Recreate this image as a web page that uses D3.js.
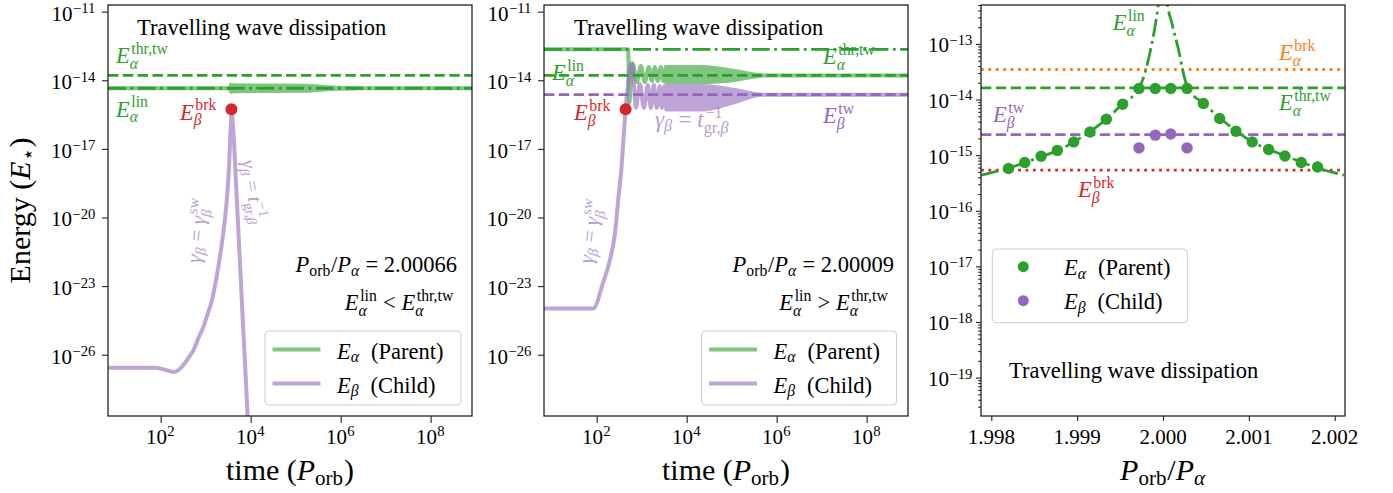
<!DOCTYPE html>
<html>
<head>
<meta charset="utf-8">
<script src="https://cdn.jsdelivr.net/npm/d3@7"></script>
<style>
  body { margin: 0; background: #fff; }
  svg text { font-family: "Liberation Serif", "Times New Roman", serif; white-space: pre; }
</style>
</head>
<body>
<svg id="fig" width="1393" height="493"></svg>
<script>
// ---------------- data ----------------
// reference energies (units of E⋆)
const E_thr_tw    = 1.62e-14;   // travelling-wave threshold of the parent
const E_beta_tw   = 2.34e-15;   // child energy in the travelling-wave state
const E_beta_brk  = 5.36e-16;   // child wave-breaking energy
const E_alpha_brk = 3.47e-14;   // parent wave-breaking energy
const E_lin_A     = 4.47e-15;   // linear parent energy, P_orb/P_α = 2.00066
const E_lin_B     = 2.24e-13;   // linear parent energy, P_orb/P_α = 2.00009

// tick values
const timeTicks    = [1e2, 1e4, 1e6, 1e8];
const energyTicksAB = [-11, -14, -17, -20, -23, -26];
const energyTicksC  = [-13, -14, -15, -16, -17, -18, -19];
const ratioTicks    = [1.998, 1.999, 2.000, 2.001, 2.002];

// axis limits
const tLimits  = [6.76, 8.3e8];
const eLimitsAB = [2.09e-29, 1.95e-11];
const eLimitsC  = [2.04e-20, 5.01e-13];
const rLimits  = [1.99788, 2.00212];

// --- left panel: P_orb/P_α = 2.00066 ---
const brkTimeA = 3.74e3;
const tA_child = [6.70, 74.1, 126, 191, 243, 316, 407, 537, 676, 891, 1.10e3, 1.38e3, 1.62e3, 1.91e3,
                  2.19e3, 2.45e3, 2.95e3, 3.31e3, 3.55e3, 3.72e3, 3.74e3, 4.15e3, 4.93e3, 5.85e3,
                  6.92e3, 8.24e3, 8.81e3];
const EA_child = [2.69e-27, 2.69e-27, 2.19e-27, 1.76e-27, 2.08e-27, 3.45e-27, 7.00e-27, 1.57e-26,
                  4.74e-26, 1.64e-25, 5.89e-25, 2.42e-24, 1.09e-23, 6.92e-23, 3.85e-22, 2.00e-21,
                  5.78e-20, 1.65e-18, 4.76e-17, 3.58e-16, 5.36e-16, 4.76e-17, 5.78e-20, 6.92e-23,
                  8.43e-26, 1.01e-28, 4.9e-30];
const tA_parent = [6.76, 8.3e8];
const EA_parent = [E_lin_A, E_lin_A];
// envelope of the small parent oscillation
const tA_band   = [3.53e3, 3.63e3, 4.17e3, 1.78e5, 5.01e5, 2.34e6];
const EA_bandHi = [4.47e-15, 6.35e-15, 6.04e-15, 5.74e-15, 4.94e-15, 4.47e-15];
const EA_bandLo = [4.47e-15, 3.14e-15, 3.30e-15, 3.48e-15, 4.04e-15, 4.47e-15];

// --- middle panel: P_orb/P_α = 2.00009 ---
const brkTimeB = 440;
const tB_parent = [6.79, 501, 533, 575, 638, 783, 959, 1178, 1445, 1683, 1963, 2286, 2667, 3027, 3443];
const EB_parent = [2.24e-13, 2.24e-13, 1.01e-15, 1.03e-14, 5.13e-14, 8.38e-15, 4.21e-14, 8.38e-15,
                   3.80e-14, 9.33e-15, 3.80e-14, 9.33e-15, 3.80e-14, 9.33e-15, 3.80e-14];
const tB_pBand   = [3443, 2.28e4, 1.17e5, 5.41e5, 8.3e8];
const EB_pBandHi = [3.80e-14, 3.80e-14, 2.54e-14, 1.62e-14, 1.62e-14];
const EB_pBandLo = [8.38e-15, 8.38e-15, 1.03e-14, 1.62e-14, 1.62e-14];

const tB_child = [6.79, 84.1, 138, 197, 255, 301, 358, 403, 440, 494, 561, 607, 671, 743, 912,
                  1119, 1371, 1600, 1862, 2173, 2535, 2805, 3184, 3532];
const EB_child = [1.05e-24, 1.05e-24, 1.34e-23, 1.36e-22, 2.00e-21, 5.78e-20, 1.65e-18, 4.76e-17,
                  5.36e-16, 6.19e-15, 4.21e-14, 5.69e-14, 6.19e-15, 6.11e-16, 6.85e-15, 6.11e-16,
                  6.19e-15, 6.11e-16, 6.19e-15, 6.11e-16, 5.60e-15, 6.11e-16, 5.60e-15, 6.11e-16];
const tB_cBand   = [3532, 2.28e4, 1.17e5, 4.62e5, 8.3e8];
const EB_cBandHi = [5.60e-15, 5.60e-15, 3.74e-15, 2.34e-15, 2.34e-15];
const EB_cBandLo = [5.25e-16, 5.25e-16, 1.12e-15, 2.34e-15, 2.34e-15];

// --- right panel: saturated energies versus period ratio ---
const ratioAlpha = [1.99820, 1.99839, 1.99858, 1.99877, 1.99896, 1.99915, 1.99934, 1.99953, 1.99972, 1.99991,
                    2.00009, 2.00028, 2.00047, 2.00066, 2.00085, 2.00104, 2.00123, 2.00142, 2.00161, 2.00180];
const E_alphaSat = [5.74e-16, 7.36e-16, 9.55e-16, 1.22e-15, 1.73e-15, 2.61e-15, 4.43e-15, 8.22e-15, 1.58e-14, 1.58e-14,
                    1.58e-14, 1.58e-14, 8.47e-15, 4.55e-15, 2.69e-15, 1.73e-15, 1.26e-15, 9.68e-16, 7.36e-16, 6.14e-16];
const ratioBeta = [1.99972, 1.99991, 2.00009, 2.00028];
const E_betaSat = [1.35e-15, 2.29e-15, 2.40e-15, 1.35e-15];
// linear parent energy curve
const ratioLin = [1.997883, 1.998183, 1.998397, 1.998591, 1.998766, 1.998960, 1.999155, 1.999341, 1.999524,
                  1.999723, 1.999776, 1.999854, 1.999913, 1.999951, 1.999985, 2.000015, 2.000047, 2.000105,
                  2.000182, 2.000248, 2.000287, 2.000474, 2.000671, 2.000854, 2.001040, 2.001234, 2.001429,
                  2.001623, 2.001798, 2.002108];
const E_linCurve = [4.36e-16, 5.74e-16, 7.36e-16, 9.57e-16, 1.19e-15, 1.73e-15, 2.69e-15, 4.43e-15, 8.22e-15,
                    1.64e-14, 2.55e-14, 7.69e-14, 2.32e-13, 6.10e-13, 2.5e-12, 2.5e-12, 6.10e-13, 2.32e-13,
                    7.69e-14, 2.55e-14, 1.64e-14, 8.47e-15, 4.55e-15, 2.69e-15, 1.73e-15, 1.26e-15, 9.68e-16,
                    7.36e-16, 5.89e-16, 4.36e-16];

// ---------------- styling ----------------
const green = '#2ca02c', purple = '#9467bd', red = '#d62728', orange = '#ff7f0e';
const axisCol = '#222';
const LW = 2.8;
const dashed  = [3.7 * LW, 1.6 * LW].join(',');
const dashdot = [6.4 * LW, 1.6 * LW, 1 * LW, 1.6 * LW].join(',');
const dotted  = [1 * LW, 1.65 * LW].join(',');

const plotTop = 5, ph = 411, pw = 364, plotBottom = plotTop + ph;
const leftA = 108, leftB = 544, leftC = 981;

const svg = d3.select('#fig');

// ---------------- text with sub/superscripts ----------------
const R = s => ({ s, it: false });
const I = s => ({ s, it: true });

function rich(parent, x, y, toks, o = {}) {
  const fs = o.size || 22.5, col = o.color || '#000';
  const g = parent.append('g')
    .attr('transform', `translate(${x},${y})` + (o.rotate ? ` rotate(${o.rotate})` : ''));
  if (o.opacity != null) g.attr('opacity', o.opacity);
  const inner = g.append('g');
  let cx = 0, prevItalic = false;
  const put = (tk, size, x0, dy) => {
    const t = inner.append('text')
      .attr('x', x0).attr('y', dy).attr('font-size', size)
      .attr('font-style', tk.it ? 'italic' : 'normal')
      .attr('fill', col).text(tk.s);
    return t.node().getComputedTextLength();
  };
  const run = (list, size, x0, dy) => {
    let w = 0;
    list.forEach(tk => { w += put(tk, size, x0 + w, dy); });
    return w;
  };
  toks.forEach(tk => {
    if (tk.s !== undefined) {
      cx += put(tk, fs, cx, 0);
      prevItalic = tk.it;
    } else {
      const ss = fs * 0.7, both = tk.sup && tk.sub;
      let w1 = 0, w2 = 0;
      if (tk.sub) w1 = run(tk.sub, ss, cx, fs * (both ? 0.25 : 0.17));
      if (tk.sup) {
        const k = prevItalic ? fs * 0.07 : fs * 0.02;
        w2 = k + run(tk.sup, ss, cx + k, -fs * (both ? 0.41 : 0.36));
      }
      cx += Math.max(w1, w2) + fs * 0.03;
      prevItalic = false;
    }
  });
  const a = o.anchor || 'start';
  if (a !== 'start') inner.attr('transform', `translate(${a === 'end' ? -cx : -cx / 2},0)`);
  return g;
}

const Esym = (sub, sup) => [I('E'), { sub: [I(sub)], sup: [R(sup)] }];
const gammaBeta = [I('γ'), { sub: [I('β')] }];
const expLabel = e => [R('10'), { sup: [R(e < 0 ? '−' + (-e) : String(e))] }];
const ratioText = r => [I('P'), { sub: [R('orb')] }, R('/'), I('P'), { sub: [I('α')] }, R(' = ' + r.toFixed(5))];

// ---------------- helpers ----------------
const zip = (a, b) => a.map((v, i) => [v, b[i]]);

function panelFrame(left, id) {
  svg.append('clipPath').attr('id', id).append('rect')
    .attr('x', left).attr('y', plotTop).attr('width', pw).attr('height', ph);
  return svg.append('g').attr('clip-path', `url(#${id})`);
}

function spines(left) {
  svg.append('rect').attr('x', left).attr('y', plotTop).attr('width', pw).attr('height', ph)
    .attr('fill', 'none').attr('stroke', axisCol).attr('stroke-width', 1.3);
}

function tickAxis(axis, transform, size) {
  const g = svg.append('g').attr('transform', transform)
    .call(axis.tickSize(size).tickFormat(''));
  g.select('.domain').remove();
  g.selectAll('.tick line').attr('stroke', axisCol).attr('stroke-width', 1.1);
  return g;
}

function hline(plot, x, y, value, color, dash) {
  plot.append('line')
    .attr('x1', x.range()[0]).attr('x2', x.range()[1])
    .attr('y1', y(value)).attr('y2', y(value))
    .attr('stroke', color).attr('stroke-width', LW)
    .attr('stroke-dasharray', dash);
}

function legendLines(x0, y0, w, h) {
  svg.append('rect').attr('x', x0).attr('y', y0).attr('width', w).attr('height', h)
    .attr('rx', 4).attr('fill', '#fff').attr('fill-opacity', 0.8)
    .attr('stroke', '#cccccc').attr('stroke-width', 1);
  [[green, 'α', 'Parent', 18.5], [purple, 'β', 'Child', 52.5]].forEach(([c, g, lab, dy]) => {
    svg.append('line').attr('x1', x0 + 7.5).attr('x2', x0 + 55.5)
      .attr('y1', y0 + dy).attr('y2', y0 + dy)
      .attr('stroke', c).attr('stroke-opacity', 0.6).attr('stroke-width', 4);
    rich(svg, x0 + 72, y0 + dy + 9, [I('E'), { sub: [I(g)] }, R('  (' + lab + ')')], { size: 22.5 });
  });
}

// ---------------- time panels (left and middle) ----------------
const yE = d3.scaleLog().domain(eLimitsAB).range([plotBottom, plotTop]);

function timePanel(left, id) {
  const x = d3.scaleLog().domain(tLimits).range([left, left + pw]);
  const plot = panelFrame(left, id);
  return { x, plot };
}

const lineT = (x, curve) => d3.line().x(d => x(d[0])).y(d => yE(d[1])).curve(curve || d3.curveMonotoneX);
const bandT = x => d3.area().x(d => x(d[0])).y0(d => yE(d[2])).y1(d => yE(d[1])).curve(d3.curveMonotoneX);

// ---- left panel ----
{
  const { x, plot } = timePanel(leftA, 'clipA');
  const gp = plot.append('g').attr('opacity', 0.6);
  gp.append('path').attr('d', lineT(x, d3.curveLinear)(zip(tA_parent, EA_parent)))
    .attr('fill', 'none').attr('stroke', green).attr('stroke-width', 4);
  gp.append('path').attr('d', bandT(x)(tA_band.map((t, i) => [t, EA_bandHi[i], EA_bandLo[i]])))
    .attr('fill', green).attr('stroke', green).attr('stroke-width', 4).attr('stroke-linejoin', 'round');
  const gc = plot.append('g').attr('opacity', 0.6);
  gc.append('path').attr('d', lineT(x)(zip(tA_child, EA_child)))
    .attr('fill', 'none').attr('stroke', purple).attr('stroke-width', 4).attr('stroke-linejoin', 'round');
  hline(plot, x, yE, E_thr_tw, green, dashed);
  hline(plot, x, yE, E_lin_A, green, dashdot);
  plot.append('circle').attr('cx', x(brkTimeA)).attr('cy', yE(E_beta_brk)).attr('r', 6).attr('fill', red);

  tickAxis(d3.axisBottom(x).tickValues(timeTicks), `translate(0,${plotBottom})`, 7);
  tickAxis(d3.axisLeft(yE).tickValues(energyTicksAB.map(e => Math.pow(10, e))), `translate(${leftA},0)`, 6);
  spines(leftA);
  timeTicks.forEach(t => rich(svg, x(t), 444, expLabel(Math.round(Math.log10(t))), { size: 21, anchor: 'middle' }));
  energyTicksAB.forEach(e => rich(svg, leftA - 12, yE(Math.pow(10, e)) + 9, expLabel(e), { size: 21, anchor: 'end' }));

  rich(svg, 137, 35, [R('Travelling wave dissipation')], { size: 22.5 });
  rich(svg, 116, 63, Esym('α', 'thr,tw'), { size: 22.5, color: green });
  rich(svg, 116, 116.5, Esym('α', 'lin'), { size: 22.5, color: green });
  rich(svg, 180, 119.5, Esym('β', 'brk'), { size: 22.5, color: red });
  rich(svg, 204, 231, [...gammaBeta, R(' = '), I('γ'), { sub: [I('β')], sup: [R('sw')] }],
       { size: 21, color: purple, opacity: 0.65, rotate: -84, anchor: 'middle' });
  rich(svg, 247, 193, [...gammaBeta, R(' = '), I('t'), { sub: [R('gr,'), I('β')], sup: [R('−1')] }],
       { size: 20, color: purple, opacity: 0.65, rotate: 80, anchor: 'middle' });
  rich(svg, 457, 272, ratioText(ratioAlpha[13]), { size: 22.5, anchor: 'end' });
  rich(svg, 454, 310, [...Esym('α', 'lin'), R(' < '), ...Esym('α', 'thr,tw')], { size: 22.5, anchor: 'end' });
  legendLines(265, 331, 196, 74);
  rich(svg, 290, 480, [R('time ('), I('P'), { sub: [R('orb')] }, R(')')], { size: 30, anchor: 'middle' });
  rich(svg, 30, 210.5, [R('Energy ('), I('E'), { sub: [R('⋆')] }, R(')')], { size: 30, rotate: -90, anchor: 'middle' });
}

// ---- middle panel ----
{
  const { x, plot } = timePanel(leftB, 'clipB');
  const gp = plot.append('g').attr('opacity', 0.6);
  gp.append('path').attr('d', lineT(x)(zip(tB_parent, EB_parent)))
    .attr('fill', 'none').attr('stroke', green).attr('stroke-width', 4).attr('stroke-linejoin', 'round');
  gp.append('path').attr('d', bandT(x)(tB_pBand.map((t, i) => [t, EB_pBandHi[i], EB_pBandLo[i]])))
    .attr('fill', green).attr('stroke', green).attr('stroke-width', 4).attr('stroke-linejoin', 'round');
  const gc = plot.append('g').attr('opacity', 0.6);
  gc.append('path').attr('d', lineT(x)(zip(tB_child, EB_child)))
    .attr('fill', 'none').attr('stroke', purple).attr('stroke-width', 4).attr('stroke-linejoin', 'round');
  gc.append('path').attr('d', bandT(x)(tB_cBand.map((t, i) => [t, EB_cBandHi[i], EB_cBandLo[i]])))
    .attr('fill', purple).attr('stroke', purple).attr('stroke-width', 4).attr('stroke-linejoin', 'round');
  hline(plot, x, yE, E_lin_B, green, dashdot);
  hline(plot, x, yE, E_thr_tw, green, dashed);
  hline(plot, x, yE, E_beta_tw, purple, dashed);
  plot.append('circle').attr('cx', x(brkTimeB)).attr('cy', yE(E_beta_brk)).attr('r', 6).attr('fill', red);

  tickAxis(d3.axisBottom(x).tickValues(timeTicks), `translate(0,${plotBottom})`, 7);
  tickAxis(d3.axisLeft(yE).tickValues(energyTicksAB.map(e => Math.pow(10, e))), `translate(${leftB},0)`, 6);
  spines(leftB);
  timeTicks.forEach(t => rich(svg, x(t), 444, expLabel(Math.round(Math.log10(t))), { size: 21, anchor: 'middle' }));
  energyTicksAB.forEach(e => rich(svg, leftB - 12, yE(Math.pow(10, e)) + 9, expLabel(e), { size: 21, anchor: 'end' }));

  rich(svg, 574, 35, [R('Travelling wave dissipation')], { size: 22.5 });
  rich(svg, 552, 80, Esym('α', 'lin'), { size: 22.5, color: green });
  rich(svg, 823, 64, Esym('α', 'thr,tw'), { size: 22.5, color: green });
  rich(svg, 574, 120, Esym('β', 'brk'), { size: 22.5, color: red });
  rich(svg, 823, 123, Esym('β', 'tw'), { size: 22.5, color: purple });
  rich(svg, 655, 127, [...gammaBeta, R(' = '), I('t'), { sub: [R('gr,'), I('β')], sup: [R('−1')] }],
       { size: 23, color: purple, opacity: 0.65 });
  rich(svg, 597, 232, [...gammaBeta, R(' = '), I('γ'), { sub: [I('β')], sup: [R('sw')] }],
       { size: 21, color: purple, opacity: 0.65, rotate: -82, anchor: 'middle' });
  rich(svg, 894, 272, ratioText(ratioAlpha[10]), { size: 22.5, anchor: 'end' });
  rich(svg, 888.5, 310, [...Esym('α', 'lin'), R(' > '), ...Esym('α', 'thr,tw')], { size: 22.5, anchor: 'end' });
  legendLines(701.5, 331, 195, 74);
  rich(svg, 726, 480, [R('time ('), I('P'), { sub: [R('orb')] }, R(')')], { size: 30, anchor: 'middle' });
}

// ---- right panel ----
{
  const x = d3.scaleLinear().domain(rLimits).range([leftC, leftC + pw]);
  const y = d3.scaleLog().domain(eLimitsC).range([plotBottom, plotTop]);
  const plot = panelFrame(leftC, 'clipC');

  hline(plot, x, y, E_alpha_brk, orange, dotted);
  hline(plot, x, y, E_thr_tw, green, dashed);
  hline(plot, x, y, E_beta_tw, purple, dashed);
  hline(plot, x, y, E_beta_brk, red, dotted);
  plot.append('path')
    .attr('d', d3.line().x(d => x(d[0])).y(d => y(d[1])).curve(d3.curveMonotoneX)(zip(ratioLin, E_linCurve)))
    .attr('fill', 'none').attr('stroke', green).attr('stroke-width', LW).attr('stroke-dasharray', dashdot);
  plot.selectAll('circle.alpha').data(zip(ratioAlpha, E_alphaSat)).join('circle')
    .attr('class', 'alpha').attr('cx', d => x(d[0])).attr('cy', d => y(d[1])).attr('r', 5.7).attr('fill', green);
  plot.selectAll('circle.beta').data(zip(ratioBeta, E_betaSat)).join('circle')
    .attr('class', 'beta').attr('cx', d => x(d[0])).attr('cy', d => y(d[1])).attr('r', 5.7).attr('fill', purple);

  tickAxis(d3.axisBottom(x).tickValues(ratioTicks), `translate(0,${plotBottom})`, 5);
  tickAxis(d3.axisLeft(y).tickValues(energyTicksC.map(e => Math.pow(10, e))), `translate(${leftC},0)`, 5);
  const minor = [];
  for (let k = -20; k <= -13; k++) for (let m = 2; m <= 9; m++) {
    const v = m * Math.pow(10, k);
    if (v > eLimitsC[0] && v < eLimitsC[1]) minor.push(v);
  }
  tickAxis(d3.axisLeft(y).tickValues(minor), `translate(${leftC},0)`, 2.8);
  spines(leftC);
  ratioTicks.forEach(r => rich(svg, x(r), 444, [R(r.toFixed(3))], { size: 21, anchor: 'middle' }));
  energyTicksC.forEach(e => rich(svg, leftC - 8, y(Math.pow(10, e)) + 8.5, expLabel(e), { size: 21, anchor: 'end' }));

  rich(svg, 1112.7, 30, Esym('α', 'lin'), { size: 22.5, color: green });
  rich(svg, 1279, 60, Esym('α', 'brk'), { size: 22.5, color: orange });
  rich(svg, 1279, 110, Esym('α', 'thr,tw'), { size: 22.5, color: green });
  rich(svg, 993, 122, Esym('β', 'tw'), { size: 22.5, color: purple });
  rich(svg, 1078, 197, Esym('β', 'brk'), { size: 22.5, color: red });
  rich(svg, 1009, 378, [R('Travelling wave dissipation')], { size: 22.5 });

  // legend
  svg.append('rect').attr('x', 992.3).attr('y', 249).attr('width', 195).attr('height', 73.7)
    .attr('rx', 4).attr('fill', '#fff').attr('fill-opacity', 0.8)
    .attr('stroke', '#cccccc').attr('stroke-width', 1);
  [[green, 'α', 'Parent', 17.7], [purple, 'β', 'Child', 51.7]].forEach(([c, g, lab, dy]) => {
    svg.append('circle').attr('cx', 1023.3).attr('cy', 249 + dy).attr('r', 5.5).attr('fill', c);
    rich(svg, 1064, 249 + dy + 8.5, [I('E'), { sub: [I(g)] }, R('  (' + lab + ')')], { size: 22.5 });
  });
  rich(svg, 1163, 480, [I('P'), { sub: [R('orb')] }, R('/'), I('P'), { sub: [I('α')] }], { size: 30, anchor: 'middle' });
}
</script>
</body>
</html>
